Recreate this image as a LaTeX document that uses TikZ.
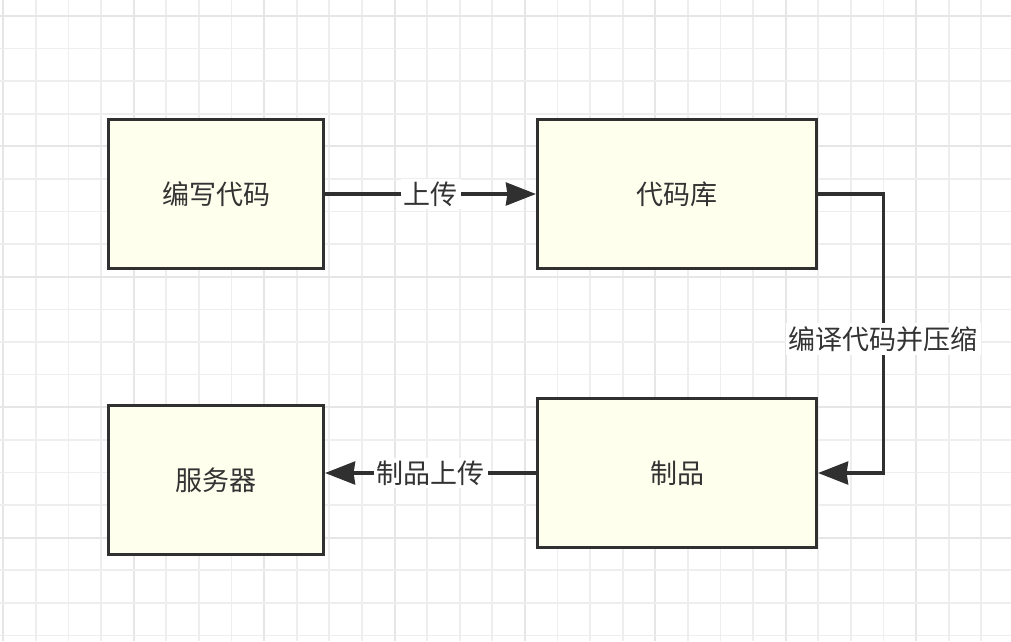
\documentclass[tikz,border=0pt]{standalone}
\usepackage{fontspec}
\setmainfont{Noto Sans CJK SC}
\usetikzlibrary{arrows.meta}
\definecolor{boxfill}{HTML}{FFFFEE}
\definecolor{boxline}{HTML}{303030}
\definecolor{textc}{HTML}{333333}
\definecolor{gridminor}{HTML}{EEEEEE}
\definecolor{gridmajor}{HTML}{E6E6E6}
\begin{document}
\begin{tikzpicture}[x=1pt,y=-1pt,
  box/.style={draw=boxline, fill=boxfill, line width=3.2pt, inner sep=0pt,
    minimum width=215pt, minimum height=149pt,
    font=\fontsize{27}{32}\selectfont, text=textc},
  conn/.style={draw=boxline, line width=3.2pt,
    -{Stealth[length=30pt,width=23pt,inset=1.5pt]}},
  lbl/.style={fill=white, text=textc, inner sep=3pt,
    font=\fontsize{27}{32}\selectfont}]
\useasboundingbox (0,0) rectangle (1011,641);
\fill[white] (0,0) rectangle (1011,641);
% grid
\foreach \i in {0,...,31} {
  \pgfmathsetmacro{\xx}{3.3+32.6*\i}
  \pgfmathtruncatemacro{\m}{mod(\i,4)}
  \ifnum\m=0
    \draw[gridmajor, line width=2pt] (\xx,0) -- (\xx,641);
  \else
    \draw[gridminor, line width=1.7pt] (\xx,0) -- (\xx,641);
  \fi
}
\foreach \i in {0,...,19} {
  \pgfmathsetmacro{\yy}{16+32.6*\i}
  \pgfmathtruncatemacro{\m}{mod(\i,4)}
  \ifnum\m=0
    \draw[gridmajor, line width=2pt] (0,\yy) -- (1011,\yy);
  \else
    \draw[gridminor, line width=1.7pt] (0,\yy) -- (1011,\yy);
  \fi
}
% boxes
\node[box] (a) at (216,194) {编写代码};
\node[box, minimum width=279pt] (b) at (677,194) {代码库};
\node[box, minimum width=279pt] (c) at (677,473) {制品};
\node[box] (d) at (216,480) {服务器};
% connectors
\draw[conn] (a.east) -- (b.west) node[midway,lbl] {上传};
\draw[conn] (b.east) -- ++(65,0) coordinate (k1)
  -- (k1 |- c.east) node[pos=0.52,lbl] {编译代码并压缩} -- (c.east);
\draw[conn] (c.west) -- (c.west -| d.east) node[midway,lbl] {制品上传};
\end{tikzpicture}
\end{document}
